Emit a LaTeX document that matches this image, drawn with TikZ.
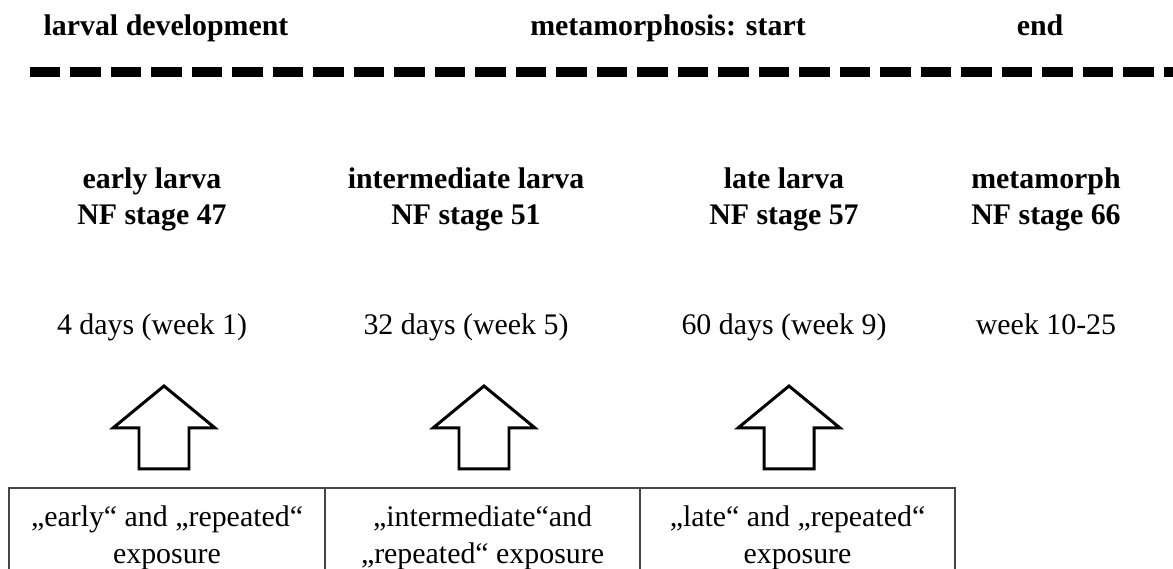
\documentclass[tikz,border=0pt]{standalone}
\usepackage{fontspec}
\setmainfont{Liberation Serif}
\usepackage{tikz}
\usetikzlibrary{positioning}

\begin{document}
\begin{tikzpicture}[
  every node/.style={inner sep=0pt, outer sep=0pt},
  phase/.style={font=\fontsize{17}{20.5}\selectfont\bfseries, anchor=base},
  stage/.style={font=\fontsize{17}{20.5}\selectfont\bfseries, align=center, anchor=base},
  age/.style={font=\fontsize{17}{20.5}\selectfont, anchor=base},
  expbox/.style={draw=gray!55!black, line width=0.8pt, font=\fontsize{17}{21}\selectfont, align=center, minimum height=1.8cm},
  uparrow/.style={line width=1.7pt, line join=miter}
]
\useasboundingbox (0,0) rectangle (23.46,11.38);

% phases of development
\node[phase] (larval) at (3.32,10.66) {larval development};
\node[phase] (metastart) at (13.36,10.66) {metamorphosis: start};
\node[phase] (metaend) at (20.8,10.66) {end};
\coordinate (tl-start) at (0.59,9.94);
\coordinate (tl-end) at (23.46,9.94);
\draw[line width=0.2cm, dash pattern=on 0.61cm off 0.2cm] (tl-start) -- (tl-end);

% stages (base = last line)
\node[stage] (early) at (3.04,6.88) {early larva\\NF stage 47};
\node[stage] (inter) at (9.32,6.88) {intermediate larva\\NF stage 51};
\node[stage] (late) at (15.68,6.88) {late larva\\NF stage 57};
\node[stage] (meta) at (20.92,6.88) {metamorph\\NF stage 66};

% age at sampling
\node[age] (early-age) at (3.04,4.68) {4 days (week 1)};
\node[age] (inter-age) at (9.32,4.68) {32 days (week 5)};
\node[age] (late-age) at (15.68,4.68) {60 days (week 9)};
\node[age] (meta-age) at (20.92,4.68) {week 10-25};

% block arrows
\foreach \x in {3.28,9.68,15.78}
  \draw[uparrow] (\x,3.66) -- ++(1.02,-0.84) -- ++(-0.52,0) -- ++(0,-0.82)
    -- ++(-1,0) -- ++(0,0.82) -- ++(-0.52,0) -- cycle;

% exposure windows
\node[expbox, minimum width=6.32cm, minimum height=1.98cm] (exp-early) at (3.34,0.63) {„early“ and „repeated“\\exposure};
\node[expbox, minimum width=6.3cm, minimum height=1.98cm] (exp-inter) at (9.65,0.63) {„intermediate“and\\„repeated“ exposure};
\node[expbox, minimum width=6.3cm, minimum height=1.98cm] (exp-late) at (15.95,0.63) {„late“ and „repeated“\\exposure};
\end{tikzpicture}
\end{document}
